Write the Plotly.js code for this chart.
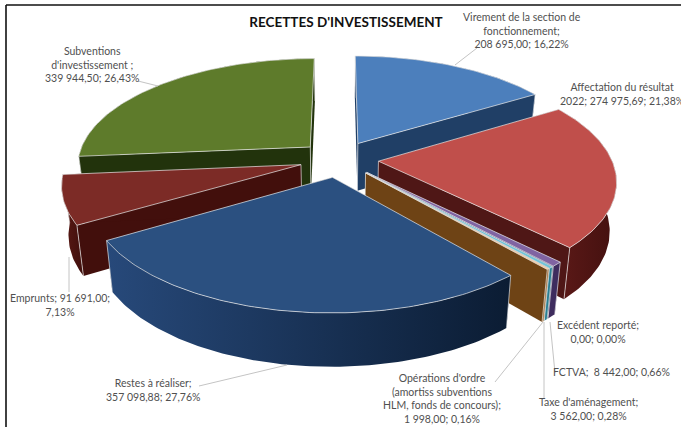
<!DOCTYPE html>
<html><head><meta charset="utf-8">
<script src="https://cdn.plot.ly/plotly-3.0.1.min.js"></script>
<style>html,body{margin:0;padding:0;background:#fff}#c{width:681px;height:427px}</style>
</head><body><div id="c"></div>
<script>
var categories = ["Virement de la section de fonctionnement","Affectation du résultat 2022","Excédent reporté","FCTVA","Taxe d'aménagement","Opérations d'ordre","Restes à réaliser","Emprunts","Subventions d'investissement"];
var values = [208695.00,274975.69,0,8442.00,3562.00,1998.00,357098.88,91691.00,339944.50];
var topColors = ["#4c7fbc","#c04f4b","#9bbb59","#8064a2","#6fc3d8","#f7c99a","#2b5080","#7c2b26","#5e7b2b"];
var endFaceColors = ["#203f66","#4f1716","#777777","#3e2c5e","#2a7f92","#6e4315","#0f2744","#420f0c","#22330c"];
var startFaceColors = ["#203f66","#4f1716","#777777","#3e2c5e","#2a7f92","#6e4315","#0f2744","#420f0c","#22330c"];
var arcLeft = ["#203f66","#5e1a18","#777777","#3e2c5e","#2a7f92","#a06a30","#27497a","#5c1a15","#22330c"];
var arcRight = ["#203f66","#43100f","#777777","#3e2c5e","#2a7f92","#a06a30","#0b1c33","#3f0f0c","#22330c"];

var labelTexts = ["Virement de la section de<br>fonctionnement;<br>208 695,00; 16,22%","Affectation du résultat<br>2022; 274 975,69; 21,38%","Excédent reporté;<br>0,00; 0,00%","FCTVA;  8 442,00; 0,66%","Taxe d'aménagement;<br>3 562,00; 0,28%","Opérations d'ordre<br>(amortiss subventions<br>HLM, fonds de concours);<br>1 998,00; 0,16%","Restes à réaliser;<br>357 098,88; 27,76%","Emprunts; 91 691,00;<br>7,13%","Subventions<br>d'investissement ;<br>339 944,50; 26,43%"];
var labelX = [522,622,598,611,588,442,153,60,92];
var labelY = [30,94,331.5,372,409,398.5,390,305,64];

var leaderX0 = [477,199,138,69,495,544,550];
var leaderY0 = [48,386,81,292,382,398,322];
var leaderX1 = [455,287,158,69,543,544,555];
var leaderY1 = [65,365,86,257,322,322,373];

// projection of the exploded disc
var Cx=339, Cy=159, R=233, Ry=106.6, K=0.164, E=0.17, XF=0.975;
function proj(X,Y){var s=1/(1-K*Y);return [Cx+R*X*s,Cy+Ry*Y*s];}
function low(X,Y){var p=proj(X,Y);return [Cx+(p[0]-Cx)*XF,p[1]+48+5*Y];}

var total=values.reduce(function(a,b){return a+b;},0);
var slices=[],acc=0;
values.forEach(function(v,i){
  var a0=acc/total*2*Math.PI; acc+=v; var a1=acc/total*2*Math.PI;
  var b=(a0+a1)/2;
  if(v>0) slices.push({i:i,a0:a0,a1:a1,px:E*Math.sin(b),py:-E*Math.cos(b)});
});
slices.sort(function(p,q){return p.py-q.py;});

var traces=[];
function poly(pts,fill,line,grad){
  var t={type:'scatter',mode:'lines',x:pts.map(function(p){return p[0];}),y:pts.map(function(p){return p[1];}),
    fill:'toself',hoverinfo:'skip',showlegend:false,line:line||{width:0,color:fill},fillcolor:fill};
  if(grad) t.fillgradient=grad;
  traces.push(t);
}
function edge(pts){
  traces.push({type:'scatter',mode:'lines',x:pts.map(function(p){return p[0];}),y:pts.map(function(p){return p[1];}),
    hoverinfo:'skip',showlegend:false,line:{width:0.9,color:'rgba(232,232,232,0.75)'}});
}
slices.forEach(function(s){
  var n=Math.max(2,Math.ceil((s.a1-s.a0)/(Math.PI/180))+1),topArc=[],lowArc=[];
  for(var j=0;j<n;j++){
    var a=s.a0+(s.a1-s.a0)*j/(n-1),X=s.px+Math.sin(a),Y=s.py-Math.cos(a);
    topArc.push(proj(X,Y)); lowArc.push(low(X,Y));
  }
  var ct=proj(s.px,s.py),cl=low(s.px,s.py);
  var c=s.i;
  poly([ct,topArc[0],lowArc[0],cl,ct],startFaceColors[c]);
  poly([ct,topArc[n-1],lowArc[n-1],cl,ct],endFaceColors[c]);
  poly(topArc.concat(lowArc.slice().reverse()).concat([topArc[0]]),arcLeft[c],null,
    {type:'horizontal',colorscale:[[0,arcLeft[c]],[1,arcRight[c]]]});
  edge([topArc[0],lowArc[0]]); edge([topArc[n-1],lowArc[n-1]]); edge([ct,cl]);
  poly([ct].concat(topArc).concat([ct]),topColors[c],{width:0.9,color:'rgba(232,232,232,0.8)'});
});

var shapes=leaderX0.map(function(x,i){return {type:'line',xref:'x',yref:'y',x0:x,y0:leaderY0[i],x1:leaderX1[i],y1:leaderY1[i],line:{color:'#c4c4c4',width:1},layer:'above'};});
shapes.push({type:'line',xref:'x',yref:'y',x0:6,y0:5,x1:6,y1:427,line:{color:'#111',width:1.6}});
shapes.push({type:'line',xref:'x',yref:'y',x0:6,y0:5,x1:681,y1:5,line:{color:'#111',width:1.6}});

var annotations=labelTexts.map(function(t,i){return {text:t,x:labelX[i],y:labelY[i],xref:'x',yref:'y',showarrow:false,xanchor:'center',yanchor:'middle',align:'center',
  font:{family:'Lato, sans-serif',size:10.5,color:'#505050'}};});

Plotly.newPlot('c',traces,{
  width:681,height:427,margin:{l:0,r:0,t:0,b:0},paper_bgcolor:'#fff',plot_bgcolor:'#fff',showlegend:false,
  title:{text:"<b>RECETTES D'INVESTISSEMENT</b>",x:346/681,xanchor:'center',y:1-22/427,yanchor:'middle',font:{family:'Lato, sans-serif',size:13.5,color:'#111'}},
  xaxis:{range:[0,681],visible:false,fixedrange:true},
  yaxis:{range:[427,0],visible:false,fixedrange:true},
  shapes:shapes,annotations:annotations
},{displayModeBar:false,staticPlot:true});
</script></body></html>
